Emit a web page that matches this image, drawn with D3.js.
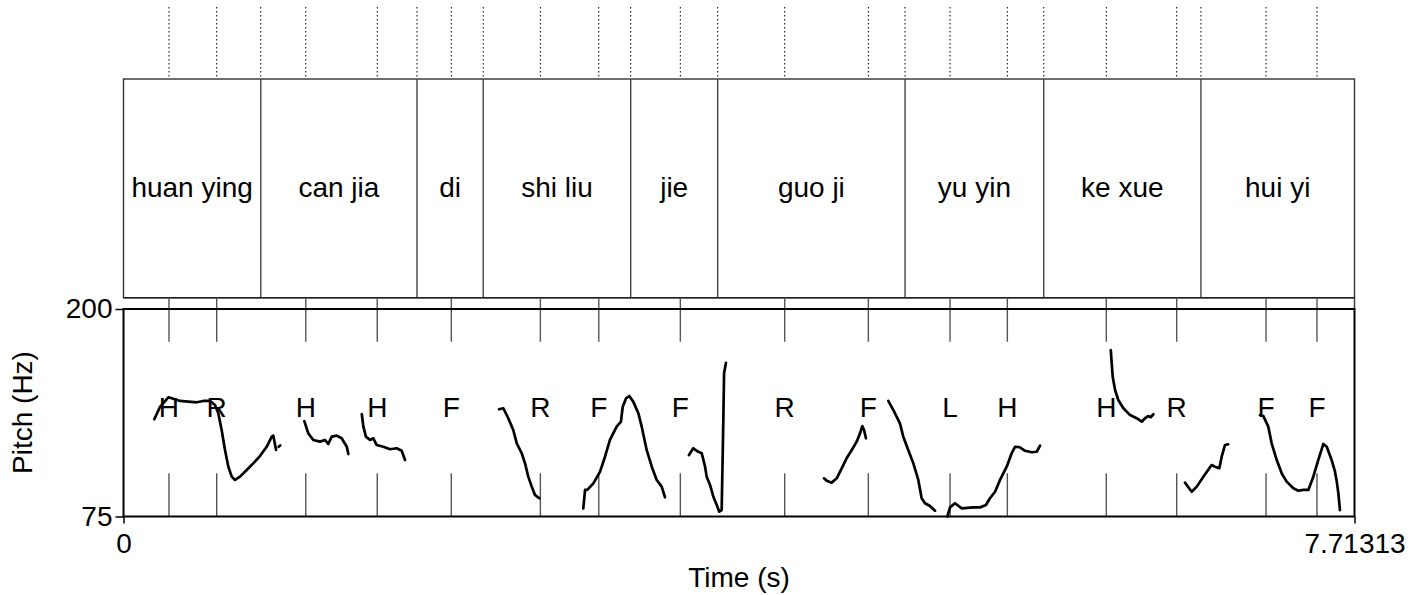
<!DOCTYPE html>
<html>
<head>
<meta charset="utf-8">
<script src="https://cdn.jsdelivr.net/npm/d3@7"></script>
<style>
  html, body { margin: 0; padding: 0; background: #fff; }
  svg text { font-family: "Liberation Sans", Arial, Helvetica, sans-serif; fill: #000; }
</style>
</head>
<body>
<svg id="chart" width="1420" height="595"></svg>
<script>
// ---------- data ----------
const totalDuration = 7.71313;
const pitchDomain = [75, 200];

const wordBoundaries = [0.860, 1.839, 2.254, 3.178, 3.723, 4.897, 5.766, 6.751];
const wordLabels = ["huan ying", "can jia", "di", "shi liu", "jie", "guo ji", "yu yin", "ke xue", "hui yi"];

const tonePoints = [0.285, 0.584, 1.142, 1.590, 2.054, 2.612, 2.978, 3.489,
                    4.143, 4.667, 5.179, 5.538, 6.158, 6.599, 7.159, 7.478];
const toneLabels = ["H", "R", "H", "H", "F", "R", "F", "F", "R", "F", "L", "H", "H", "R", "F", "F"];

// pitch contours: [time (s), F0 (Hz)]
const pitchContours = [
  [[0.193,133.6],[0.229,141.1],[0.281,146.8],[0.302,146.2],[0.354,144.6],[0.406,144.2],[0.459,143.8],
   [0.500,144.6],[0.542,144.6],[0.573,142.2],[0.594,137.2],[0.615,127.1],[0.636,115.1],[0.657,105.0],
   [0.678,99.0],[0.699,97.0],[0.730,99.0],[0.772,103.0],[0.813,107.0],[0.855,111.4],[0.897,117.0],
   [0.929,123.1],[0.939,123.7],[0.956,115.1]],
  [[0.972,117.0],[0.982,117.8]],
  [[1.133,132.5],[1.158,125.1],[1.189,121.1],[1.231,120.1],[1.263,121.1],[1.283,118.7],[1.305,123.1],
   [1.336,123.7],[1.367,122.1],[1.399,117.0],[1.409,112.6]],
  [[1.493,136.7],[1.503,129.1],[1.519,123.1],[1.545,121.1],[1.565,122.1],[1.586,118.1],[1.628,117.0],
   [1.670,115.5],[1.712,116.1],[1.743,114.6],[1.764,109.0]],
  [[2.353,139.6],[2.380,140.2],[2.411,134.2],[2.442,127.1],[2.464,119.1],[2.495,113.1],[2.516,107.0],
   [2.536,99.0],[2.558,93.0],[2.578,88.0],[2.605,86.0]],
  [[2.881,79.9],[2.892,91.0],[2.906,91.0],[2.944,95.0],[2.986,102.0],[3.017,111.0],[3.048,121.1],
   [3.090,129.1],[3.117,132.1],[3.128,141.1],[3.149,146.2],[3.169,147.6],[3.194,144.2],[3.226,137.2],
   [3.247,129.1],[3.278,115.1],[3.310,105.0],[3.341,97.0],[3.372,93.0],[3.393,86.6]],
  [[3.543,112.0],[3.570,116.1],[3.602,114.0],[3.623,113.1],[3.644,105.0],[3.654,99.0],[3.675,94.0],
   [3.696,86.9],[3.717,81.9],[3.733,77.9],[3.748,78.9],[3.758,131.1],[3.763,161.3],[3.775,167.6]],
  [[4.389,98.0],[4.406,96.6],[4.437,95.4],[4.469,98.0],[4.500,104.0],[4.531,110.1],[4.563,115.1],
   [4.594,120.1],[4.615,125.1],[4.629,129.5],[4.640,127.1],[4.652,122.1]],
  [[4.792,144.6],[4.823,139.2],[4.865,131.1],[4.886,123.1],[4.917,115.1],[4.949,107.0],[4.980,97.0],
   [5.001,86.0],[5.022,83.0],[5.053,81.3],[5.085,78.5]],
  [[5.162,75.0],[5.179,80.5],[5.210,83.0],[5.252,79.9],[5.304,80.3],[5.335,80.5],[5.367,80.5],
   [5.404,81.9],[5.429,86.0],[5.461,89.9],[5.492,97.0],[5.534,105.0],[5.565,113.1],[5.586,117.0],
   [5.617,116.7],[5.649,114.6],[5.691,113.7],[5.722,114.0],[5.743,117.7]],
  [[6.186,175.3],[6.192,167.3],[6.198,159.2],[6.213,151.2],[6.233,145.2],[6.265,140.2],[6.307,136.1],
   [6.348,134.2],[6.380,132.1],[6.401,134.2],[6.421,135.5],[6.436,134.8],[6.453,136.6]],
  [[6.651,95.4],[6.693,89.9],[6.725,93.0],[6.766,99.0],[6.818,106.0],[6.839,105.0],[6.866,104.0],
   [6.881,111.0],[6.902,118.1],[6.922,118.5]],
  [[7.121,136.1],[7.142,135.5],[7.173,129.1],[7.194,119.1],[7.226,109.0],[7.257,101.0],[7.288,96.0],
   [7.330,92.0],[7.361,90.5],[7.392,91.0],[7.424,91.0],[7.455,99.0],[7.486,109.0],[7.518,118.7],
   [7.539,117.0],[7.570,109.0],[7.591,102.0],[7.602,96.0],[7.612,89.0],[7.622,78.9]]
];

const yTickValues = [75, 200];
const xTickValues = [0, 7.71313];
const xTickLabels = ["0", "7.71313"];

// ---------- layout ----------
const L = 123.5, R = 1354.5;
const dotTop = 7, tierTop = 79, tierBottom = 297.7, plotTop = 309, plotBottom = 516.5;
const FS = 28;

const svg = d3.select("#chart");
const x = d3.scaleLinear().domain([0, totalDuration]).range([L, R]);
const y = d3.scaleLinear().domain(pitchDomain).range([plotBottom, plotTop]);

// dotted guide lines above the tier (word boundaries + tone points)
const allMarks = wordBoundaries.concat(tonePoints);
svg.append("g").selectAll("line").data(allMarks).join("line")
  .attr("x1", d => x(d)).attr("x2", d => x(d))
  .attr("y1", dotTop).attr("y2", tierTop)
  .attr("stroke", "#000").attr("stroke-width", 1)
  .attr("stroke-dasharray", "1.5,2.5");

// word tier box
svg.append("rect").attr("x", L).attr("y", tierTop)
  .attr("width", R - L).attr("height", tierBottom - tierTop)
  .attr("fill", "none").attr("stroke", "#333").attr("stroke-width", 1.4);
svg.append("g").selectAll("line").data(wordBoundaries).join("line")
  .attr("x1", d => x(d)).attr("x2", d => x(d))
  .attr("y1", tierTop).attr("y2", tierBottom)
  .attr("stroke", "#444").attr("stroke-width", 1.4);

const edges = [0].concat(wordBoundaries, [totalDuration]);
svg.append("g").selectAll("text").data(wordLabels).join("text")
  .attr("x", (d, i) => (x(edges[i]) + x(edges[i + 1])) / 2)
  .attr("y", 197)
  .attr("text-anchor", "middle").attr("font-size", FS)
  .text(d => d);

// thin point tier between word tier and pitch plot
svg.append("line").attr("x1", L).attr("x2", R).attr("y1", tierBottom).attr("y2", tierBottom)
  .attr("stroke", "#222").attr("stroke-width", 1.5);
svg.append("line").attr("x1", R).attr("x2", R).attr("y1", tierBottom).attr("y2", plotTop)
  .attr("stroke", "#333").attr("stroke-width", 1.4);
svg.append("g").selectAll("line").data(tonePoints).join("line")
  .attr("x1", d => x(d)).attr("x2", d => x(d))
  .attr("y1", tierBottom).attr("y2", plotTop)
  .attr("stroke", "#555").attr("stroke-width", 1.4);

// tone tick marks inside the pitch area
const tickTop = 341.7, tickBottom = 473.3;
const toneTicks = svg.append("g");
toneTicks.selectAll("line.t").data(tonePoints).join("line").attr("class", "t")
  .attr("x1", d => x(d)).attr("x2", d => x(d))
  .attr("y1", plotTop).attr("y2", tickTop)
  .attr("stroke", "#555").attr("stroke-width", 1.4);
toneTicks.selectAll("line.b").data(tonePoints).join("line").attr("class", "b")
  .attr("x1", d => x(d)).attr("x2", d => x(d))
  .attr("y1", tickBottom).attr("y2", plotBottom)
  .attr("stroke", "#555").attr("stroke-width", 1.4);

// tone labels
svg.append("g").selectAll("text").data(toneLabels).join("text")
  .attr("x", (d, i) => x(tonePoints[i]))
  .attr("y", 417)
  .attr("text-anchor", "middle").attr("font-size", FS)
  .text(d => d);

// pitch contours
const line = d3.line().x(d => x(d[0])).y(d => y(d[1])).curve(d3.curveLinear);
svg.append("g").selectAll("path").data(pitchContours).join("path")
  .attr("d", line)
  .attr("fill", "none").attr("stroke", "#000").attr("stroke-width", 2.7)
  .attr("stroke-linejoin", "round").attr("stroke-linecap", "round");

// pitch frame
svg.append("rect").attr("x", L).attr("y", plotTop)
  .attr("width", R - L).attr("height", plotBottom - plotTop)
  .attr("fill", "none").attr("stroke", "#000").attr("stroke-width", 2);

// y axis
const yAxis = d3.axisLeft(y).tickValues(yTickValues).tickSize(8).tickPadding(3)
  .tickFormat(d3.format("d"));
const gy = svg.append("g").attr("transform", `translate(${L},0)`).call(yAxis);
gy.select(".domain").remove();
gy.selectAll("line").attr("stroke", "#000").attr("stroke-width", 1.5);
gy.selectAll("text").attr("font-size", FS)
  .attr("font-family", '"Liberation Sans", Arial, Helvetica, sans-serif').attr("fill", "#000");

// x axis
const xAxis = d3.axisBottom(x).tickValues(xTickValues).tickSize(7).tickPadding(10)
  .tickFormat((d, i) => xTickLabels[i]);
const gx = svg.append("g").attr("transform", `translate(0,${plotBottom})`).call(xAxis);
gx.select(".domain").remove();
gx.selectAll("line").attr("stroke", "#000").attr("stroke-width", 1.5);
gx.selectAll("text").attr("font-size", FS)
  .attr("font-family", '"Liberation Sans", Arial, Helvetica, sans-serif').attr("fill", "#000");

// axis titles
svg.append("text").attr("x", (L + R) / 2).attr("y", 587)
  .attr("text-anchor", "middle").attr("font-size", FS).text("Time (s)");
svg.append("text").attr("transform", "translate(32,412.5) rotate(-90)")
  .attr("text-anchor", "middle").attr("font-size", FS).text("Pitch (Hz)");
</script>
</body>
</html>
